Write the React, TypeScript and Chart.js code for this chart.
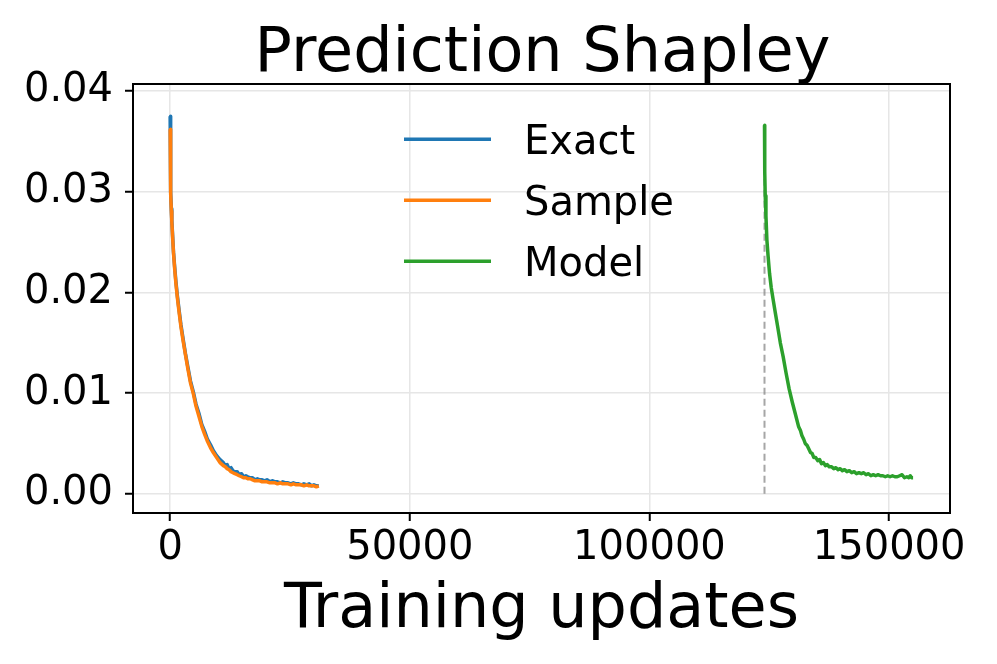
import React, { useEffect, useRef } from "react";
import { Chart, registerables } from "chart.js";

Chart.register(...registerables);

const TITLE = "Prediction Shapley";
const X_LABEL = "Training updates";
const SERIES_NAMES = ["Exact", "Sample", "Model"];
const SERIES_COLORS = ["#1f77b4", "#ff7f0e", "#2ca02c"];
const X_TICKS = [0, 50000, 100000, 150000];
const Y_TICKS = [0, 0.01, 0.02, 0.03, 0.04];
const X_MIN = -7750;
const X_MAX = 162700;
const Y_MIN = -0.0019;
const Y_MAX = 0.0407;

const exactX = [0, 60, 150, 250, 350, 500, 700, 950, 1200, 1500, 1850, 2250, 2700, 3200, 3700, 4250, 4850, 5400, 6000, 6600, 7200, 7800, 8400, 9000, 9700, 10400, 11100, 11500, 11900, 12300, 12700, 13100, 13500, 14000, 14400, 14900, 15300, 15800, 16200, 16700, 17200, 17700, 18200, 18700, 19200, 19700, 20200, 20800, 21300, 21900, 22400, 23000, 23500, 24100, 24600, 25200, 25700, 26300, 26800, 27400, 27900, 28500, 29000, 29500, 30000, 30500, 31000];
const exactY = [0.0375, 0.0330, 0.0300, 0.0283, 0.0272, 0.0258, 0.0240, 0.0225, 0.0211, 0.0197, 0.0183, 0.0168, 0.0154, 0.0139, 0.0126, 0.0112, 0.0101, 0.0089, 0.0080, 0.0069, 0.0062, 0.0054, 0.0049, 0.0043, 0.0038, 0.0034, 0.0031, 0.0028, 0.0029, 0.0025, 0.0026, 0.0023, 0.0022, 0.0022, 0.0019, 0.0020, 0.0017, 0.0018, 0.0017, 0.0016, 0.0016, 0.0014, 0.0015, 0.0014, 0.0014, 0.0013, 0.0014, 0.0012, 0.0013, 0.0012, 0.0012, 0.0011, 0.0012, 0.0011, 0.0011, 0.0010, 0.0011, 0.0010, 0.0010, 0.0009, 0.0010, 0.0009, 0.0010, 0.0008, 0.0009, 0.0008, 0.0008];

const sampleX = [0, 60, 150, 250, 350, 500, 700, 950, 1200, 1500, 1850, 2250, 2700, 3200, 3700, 4250, 4850, 5400, 6000, 6600, 7200, 7800, 8400, 9000, 9700, 10400, 11100, 11500, 11900, 12300, 12700, 13100, 13500, 14000, 14400, 14900, 15300, 15800, 16200, 16700, 17200, 17700, 18200, 18700, 19200, 19700, 20200, 20800, 21300, 21900, 22400, 23000, 23500, 24100, 24600, 25200, 25700, 26300, 26800, 27400, 27900, 28500, 29000, 29500, 30000, 30500, 31000];
const sampleY = [0.0362, 0.0328, 0.0298, 0.0281, 0.0270, 0.0256, 0.0239, 0.0223, 0.0209, 0.0195, 0.0181, 0.0166, 0.0152, 0.0138, 0.0124, 0.0110, 0.0099, 0.0087, 0.0077, 0.0067, 0.0059, 0.0052, 0.0046, 0.0041, 0.0036, 0.0031, 0.0028, 0.0027, 0.0025, 0.0024, 0.0022, 0.0021, 0.0020, 0.0019, 0.0018, 0.0017, 0.0016, 0.0016, 0.0015, 0.0015, 0.0014, 0.0013, 0.0013, 0.0013, 0.0012, 0.0012, 0.0012, 0.0011, 0.0011, 0.0011, 0.0010, 0.0011, 0.0010, 0.0010, 0.0010, 0.0009, 0.0010, 0.0009, 0.0009, 0.0009, 0.0008, 0.0009, 0.0008, 0.0008, 0.0008, 0.0007, 0.0008];

const modelX = [124000, 124050, 124150, 124300, 124500, 124750, 125050, 125400, 125800, 126250, 126750, 127300, 127900, 128500, 129150, 129800, 130450, 131100, 131500, 131800, 132200, 132500, 132900, 133200, 133600, 133950, 134300, 134700, 135100, 135500, 135900, 136300, 136700, 137100, 137500, 138000, 138450, 138900, 139350, 139800, 140250, 140700, 141200, 141700, 142200, 142700, 143200, 143700, 144200, 144700, 145200, 145700, 146200, 146700, 147200, 147700, 148200, 148700, 149200, 149700, 150200, 150700, 151200, 151700, 152200, 152700, 153200, 153700, 154100, 154400, 154700, 155000];
const modelY = [0.0366, 0.0320, 0.0296, 0.0276, 0.0252, 0.0236, 0.0219, 0.0205, 0.0193, 0.0180, 0.0166, 0.0150, 0.0136, 0.0120, 0.0104, 0.0091, 0.0079, 0.0067, 0.0063, 0.0058, 0.0054, 0.0050, 0.0048, 0.0045, 0.0041, 0.0040, 0.0036, 0.0036, 0.0033, 0.0034, 0.0030, 0.0031, 0.0028, 0.0029, 0.0027, 0.0027, 0.0025, 0.0026, 0.0024, 0.0025, 0.0023, 0.0024, 0.0022, 0.0023, 0.0021, 0.0022, 0.0020, 0.0021, 0.0020, 0.0021, 0.0019, 0.0020, 0.0018, 0.0019, 0.0018, 0.0019, 0.0018, 0.0018, 0.0017, 0.0018, 0.0017, 0.0018, 0.0017, 0.0017, 0.0018, 0.0019, 0.0016, 0.0017, 0.0016, 0.0018, 0.0016, 0.0016];

const markerX = [124000, 124000];
const markerY = [0, 0.0366];

const FONT = "'DejaVu Sans', sans-serif";

function pts(xs: number[], ys: number[]) {
  return xs.map((x, i) => ({ x, y: ys[i] }));
}

const decorPlugin = {
  id: "decor",
  afterDraw(chart: any) {
    const { ctx, chartArea: a } = chart;
    ctx.save();
    ctx.strokeStyle = "#000";
    ctx.lineWidth = 2;
    ctx.strokeRect(a.left, a.top, a.right - a.left, a.bottom - a.top);
    ctx.fillStyle = "#000";
    const cx = (a.left + a.right) / 2;
    ctx.textAlign = "center";
    ctx.textBaseline = "alphabetic";
    ctx.font = `62px ${FONT}`;
    ctx.fillText(TITLE, cx + 1, 71);
    ctx.fillText(X_LABEL, cx, 627);
    // legend (upper center, no frame)
    ctx.font = `40px ${FONT}`;
    ctx.textAlign = "left";
    SERIES_NAMES.forEach((name, i) => {
      const y = a.top + 55.3 + i * 61;
      ctx.strokeStyle = SERIES_COLORS[i];
      ctx.lineWidth = 3.5;
      ctx.beginPath();
      ctx.moveTo(a.left + 271, y);
      ctx.lineTo(a.left + 358, y);
      ctx.stroke();
      ctx.fillStyle = "#000";
      ctx.fillText(name, a.left + 391, y + 14.6);
    });
    ctx.restore();
  },
};

export default function App() {
  const ref = useRef<HTMLCanvasElement>(null);
  useEffect(() => {
    if (!ref.current) return;
    Chart.defaults.font.family = FONT;
    const line = (label: string, data: any, color: string, order: number) => ({
      label,
      data,
      borderColor: color,
      backgroundColor: color,
      borderWidth: 3.5,
      pointRadius: 0,
      tension: 0,
      fill: false,
      borderJoinStyle: "round" as const,
      order,
    });
    const chart = new Chart(ref.current, {
      type: "line",
      data: {
        datasets: [
          line(SERIES_NAMES[0], pts(exactX, exactY), SERIES_COLORS[0], 3),
          line(SERIES_NAMES[1], pts(sampleX, sampleY), SERIES_COLORS[1], 2),
          line(SERIES_NAMES[2], pts(modelX, modelY), SERIES_COLORS[2], 1),
          {
            label: "marker",
            data: pts(markerX, markerY),
            borderColor: "rgba(128,128,128,0.7)",
            borderWidth: 2,
            borderDash: [7, 4],
            pointRadius: 0,
            fill: false,
            order: 4,
          },
        ],
      },
      options: {
        responsive: false,
        animation: false,
        layout: { padding: { top: 84, right: 47, left: 0, bottom: 0 } },
        plugins: {
          legend: { display: false },
          title: { display: false },
          tooltip: { enabled: false },
        },
        scales: {
          x: {
            type: "linear",
            min: X_MIN,
            max: X_MAX,
            afterBuildTicks: (s: any) => {
              s.ticks = X_TICKS.map((v) => ({ value: v }));
            },
            afterFit: (s: any) => {
              s.height = 151;
            },
            ticks: {
              color: "#000",
              font: { size: 40, family: FONT },
              padding: 4,
              maxRotation: 0,
              autoSkip: false,
              callback: (v: any) => String(v),
            },
            grid: {
              color: "#e6e6e6",
              lineWidth: 1.5,
              tickColor: "#000",
              tickLength: 8,
              tickWidth: 2,
            },
            border: { display: true, color: "#000", width: 2 },
          },
          y: {
            type: "linear",
            min: Y_MIN,
            max: Y_MAX,
            afterBuildTicks: (s: any) => {
              s.ticks = Y_TICKS.map((v) => ({ value: v }));
            },
            afterFit: (s: any) => {
              s.width = 133;
            },
            ticks: {
              color: "#000",
              font: { size: 40, family: FONT },
              padding: 12,
              autoSkip: false,
              callback: (v: any) => Number(v).toFixed(2),
            },
            grid: {
              color: "#e6e6e6",
              lineWidth: 1.5,
              tickColor: "#000",
              tickLength: 8,
              tickWidth: 2,
            },
            border: { display: true, color: "#000", width: 2 },
          },
        },
      },
      plugins: [decorPlugin],
    });
    return () => chart.destroy();
  }, []);
  return (
    <div style={{ position: "absolute", left: 0, top: 0, width: 997, height: 664, background: "#fff" }}>
      <canvas ref={ref} width={997} height={664} style={{ width: 997, height: 664, display: "block" }} />
    </div>
  );
}
